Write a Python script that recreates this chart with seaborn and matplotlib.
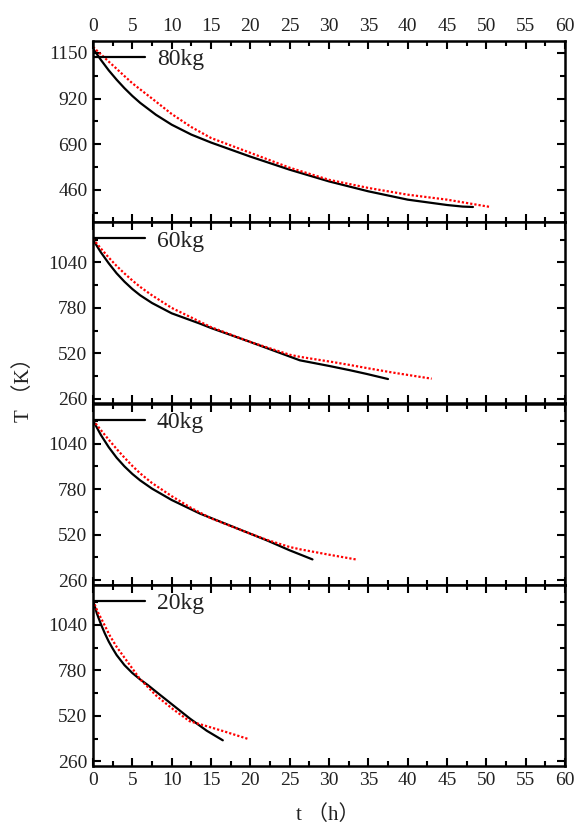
import numpy as np
import pandas as pd
import matplotlib
matplotlib.use("Agg")
import matplotlib.pyplot as plt
from matplotlib.ticker import MultipleLocator, FixedLocator
import seaborn as sns

sns.set_style("ticks")
plt.rcParams['font.family'] = ['Liberation Serif', 'Noto Sans CJK SC', 'DejaVu Sans']
plt.rcParams['axes.unicode_minus'] = False

# ---- data ----
labels = ["80kg", "60kg", "40kg", "20kg"]

t_sim_80 = [0, 1, 2, 3, 4, 5, 6, 8, 10, 12.5, 15, 20, 25, 30, 35, 40, 45, 47, 48.3]
T_sim_80 = [1172, 1115, 1062, 1015, 972, 933, 898, 838, 788, 738, 698, 627, 561, 502, 452, 410, 383, 375, 373]
t_exp_80 = [0, 1, 2, 3, 4, 5, 6, 7.5, 10, 12.5, 15, 20, 25, 30, 35, 40, 45, 50.5]
T_exp_80 = [1180, 1143, 1106, 1070, 1033, 997, 966, 920, 842, 776, 721, 646, 571, 510, 469, 435, 410, 373]

t_sim_60 = [0, 1, 2, 3, 4, 5, 6, 7.5, 10, 13.6, 15, 20, 26.3, 30, 32.7, 34.8, 37.5]
T_sim_60 = [1170, 1098, 1035, 978, 930, 888, 852, 808, 749, 690, 665, 585, 480, 448, 423, 402, 373]
t_exp_60 = [0, 1, 2, 3, 4, 5, 6, 7.5, 10, 15, 20, 25, 26.3, 30.5, 32.7, 34.9, 38.1, 43.05]
T_exp_60 = [1175, 1120, 1068, 1020, 977, 937, 900, 852, 780, 670, 585, 512, 500, 470, 453, 435, 410, 375]

t_sim_40 = [0, 1, 2, 3, 4, 5, 6, 7.5, 10, 13.6, 15, 20, 22.1, 25, 27.9]
T_sim_40 = [1173, 1090, 1020, 960, 910, 867, 830, 783, 718, 640, 615, 525, 487, 430, 378]
t_exp_40 = [0, 1, 2, 3, 4, 5, 6, 7.5, 10, 12.5, 15, 20, 22.1, 25, 26.3, 30, 33.4]
T_exp_40 = [1175, 1118, 1063, 1010, 960, 913, 870, 815, 740, 672, 613, 525, 490, 449, 436, 405, 378]

t_sim_20 = [0, 0.5, 1, 1.5, 2, 2.5, 3, 4, 5, 6, 7, 8.1, 10.2, 12.3, 14.45, 16.5]
T_sim_20 = [1180, 1105, 1045, 992, 945, 905, 868, 810, 765, 728, 695, 655, 580, 505, 435, 380]
t_exp_20 = [0, 0.6, 1.3, 2.16, 3.0, 3.85, 6.0, 8.1, 10.2, 12.3, 14.45, 16.6, 19.7]
T_exp_20 = [1180, 1115, 1054, 977, 915, 862, 729, 633, 557, 489, 461, 432, 388]

sim_t = [t_sim_80, t_sim_60, t_sim_40, t_sim_20]
sim_T = [T_sim_80, T_sim_60, T_sim_40, T_sim_20]
exp_t = [t_exp_80, t_exp_60, t_exp_40, t_exp_20]
exp_T = [T_exp_80, T_exp_60, T_exp_40, T_exp_20]

yticks_top = [460, 690, 920, 1150]
yticks_other = [260, 520, 780, 1040]
xticks = list(range(0, 61, 5))

# ---- figure ----
fig = plt.figure(figsize=(5.76, 8.25), dpi=100)
left, right = 93 / 576, 565 / 576
top, bottom = 1 - 41 / 825, 1 - 766 / 825
h = (top - bottom) / 4
axes = []
for i in range(4):
    ax = fig.add_axes([left, top - (i + 1) * h, right - left, h])
    axes.append(ax)

TXT = "#222222"
for i, ax in enumerate(axes):
    df_s = pd.DataFrame({"t": sim_t[i], "T": sim_T[i]})
    df_e = pd.DataFrame({"t": exp_t[i], "T": exp_T[i]})
    sns.lineplot(data=df_s, x="t", y="T", ax=ax, color="black", lw=1.6,
                 label=labels[i], sort=False, estimator=None)
    sns.lineplot(data=df_e, x="t", y="T", ax=ax, color="red", lw=1.6,
                 linestyle=(0, (1, 0.9)), sort=False, estimator=None, legend=False)
    ax.set_xlim(0, 60)
    if i == 0:
        ax.set_ylim(296, 1210)
        ax.yaxis.set_major_locator(FixedLocator(yticks_top))
        ax.yaxis.set_minor_locator(FixedLocator([345, 575, 805, 1035]))
    else:
        ax.set_ylim(233, 1270)
        ax.yaxis.set_major_locator(FixedLocator(yticks_other))
        ax.yaxis.set_minor_locator(FixedLocator([390, 650, 910, 1170]))
    ax.xaxis.set_major_locator(FixedLocator(xticks))
    ax.xaxis.set_minor_locator(MultipleLocator(2.5))
    ax.tick_params(which="both", direction="in", top=True, right=True,
                   bottom=True, left=True, labelsize=14, colors="black",
                   labelcolor=TXT, pad=4)
    ax.tick_params(which="major", length=6, width=1.5)
    ax.tick_params(which="minor", length=3.5, width=1.5)
    ax.tick_params(axis="x", labeltop=(i == 0), labelbottom=(i == 3))
    for s in ax.spines.values():
        s.set_linewidth(1.8)
        s.set_color("black")
    ax.set_xlabel("")
    ax.set_ylabel("")
    leg = ax.legend(loc="upper left", bbox_to_anchor=(-0.027, 1.035), frameon=False,
                    handlelength=2.15, handletextpad=0.5, borderaxespad=0.2,
                    fontsize=17)
    for txt in leg.get_texts():
        txt.set_color(TXT)

fig.text(24 / 576, 1 - 385 / 825, "T （K）", rotation=90, ha="center", va="center",
         fontsize=15, color=TXT)
fig.text(328 / 576, 1 - 815 / 825, "t （h）", ha="center", va="center",
         fontsize=15, color=TXT)

fig.savefig("out.png", dpi=100)
